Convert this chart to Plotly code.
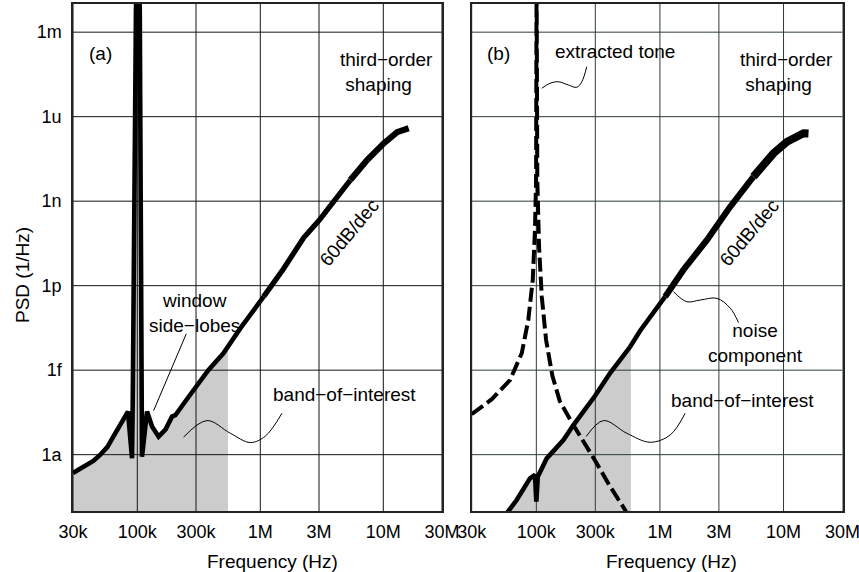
import numpy as np
import plotly.graph_objects as go

# ---------------- axis ticks ----------------
x_tick_vals = [3e4, 1e5, 3e5, 1e6, 3e6, 1e7, 3e7]
x_tick_text = ["30k", "100k", "300k", "1M", "3M", "10M", "30M"]
y_tick_vals = [1e-3, 1e-6, 1e-9, 1e-12, 1e-15, 1e-18]
y_tick_text = ["1m", "1u", "1n", "1p", "1f", "1a"]
x_range_log = [np.log10(3e4), np.log10(3e7)]
y_range_log = [-20, -2]

# ---------------- panel (a): full spectrum (log10 Hz, log10 PSD) ----------------
a_log_freq = [4.477, 4.588, 4.642, 4.697, 4.756, 4.805, 4.862, 4.924, 4.957, 4.963,
              4.989, 5.004, 5.020, 5.036, 5.038, 5.079, 5.12, 5.173, 5.23, 5.282,
              5.309, 5.40, 5.512, 5.577, 5.70, 5.84, 6.027, 6.189, 6.352, 6.48,
              6.596, 6.732, 6.868, 7.003, 7.112, 7.206]
a_log_psd = [-18.65, -18.37, -18.22, -18.01, -17.73, -17.36, -16.95, -16.47, -18.13, -16.06,
             -2.2, 0.0, -2.2, -16.0, -18.07, -16.47, -17.0, -17.36, -17.1, -16.65,
             -16.6, -16.05, -15.35, -15.0, -14.4, -13.5, -12.39, -11.4, -10.3, -9.67,
             -9.02, -8.25, -7.54, -6.95, -6.55, -6.41]

# ---------------- panel (b): noise component ----------------
b_noise_log_freq = [4.74, 4.841, 4.949, 4.989, 5.0, 5.012, 5.084, 5.219, 5.3, 5.477,
                    5.597, 5.759, 5.84, 6.042, 6.19, 6.38, 6.568, 6.757, 6.919, 7.028,
                    7.162, 7.202]
b_noise_log_psd = [-20.2, -19.61, -18.84, -18.72, -19.67, -18.78, -18.13, -17.48, -16.95, -15.9,
                   -15.1, -14.17, -13.6, -12.39, -11.44, -10.38, -9.2, -8.13, -7.3, -6.89,
                   -6.59, -6.6]

# ---------------- panel (b): extracted tone ----------------
b_tone_log_freq = [4.477, 4.64, 4.787, 4.882, 4.935, 4.971, 4.989, 4.998, 5.002, 5.008,
                   5.022, 5.044, 5.079, 5.13, 5.19, 5.289, 5.481, 5.597, 5.718, 5.745]
b_tone_log_psd = [-16.56, -16.03, -15.35, -14.4, -13.22, -11.8, -10.02, -8.25, -1.0, -8.25,
                  -10.62, -12.39, -13.93, -15.2, -16.1, -16.87, -18.25, -19.13, -19.96, -20.2]

# band-of-interest edges (log10 Hz)
a_band_edge = 5.737
b_band_edge = 5.765
# noise trace gets thicker toward high frequency (log10 Hz split points)
thick_splits = [6.0, 6.6]

FONT = "Liberation Sans, Arial, sans-serif"
GRAY_FILL = "#cccccc"
TXT = 19

fig = go.Figure()


def band_polygon(lf, lp, edge):
    lf = np.asarray(lf, float)
    lp = np.asarray(lp, float)
    m = lf <= edge
    xs = list(lf[m]) + [edge, edge, lf[0]]
    ys = list(lp[m]) + [float(np.interp(edge, lf, lp)), -21.0, -21.0]
    return 10 ** np.array(xs), 10 ** np.array(ys)


def add_grid(xa, ya, color):
    gx, gy = [], []
    for v in x_tick_vals:
        gx += [v, v, None]
        gy += [1e-21, 1e0, None]
    for v in y_tick_vals:
        gx += [1e4, 1e8, None]
        gy += [v, v, None]
    fig.add_trace(go.Scatter(x=gx, y=gy, mode="lines", xaxis=xa, yaxis=ya,
                             line=dict(color=color, width=1), hoverinfo="skip",
                             showlegend=False))


def add_noise(lf, lp, xa, ya, widths):
    lf = np.asarray(lf, float)
    lp = np.asarray(lp, float)
    cuts = [0] + [int(np.searchsorted(lf, s)) for s in thick_splits] + [len(lf) - 1]
    for i, w in enumerate(widths):
        a, b = cuts[i], cuts[i + 1]
        fig.add_trace(go.Scatter(x=10 ** lf[a:b + 1], y=10 ** lp[a:b + 1], mode="lines",
                                 xaxis=xa, yaxis=ya, line=dict(color="black", width=w),
                                 showlegend=False))


# ---- panel (a)
px, py = band_polygon(a_log_freq, a_log_psd, a_band_edge)
fig.add_trace(go.Scatter(x=px, y=py, fill="toself", fillcolor=GRAY_FILL, mode="lines",
                         line=dict(width=0, color=GRAY_FILL), xaxis="x", yaxis="y",
                         showlegend=False, hoverinfo="skip"))
add_grid("x", "y", "#151515")
add_noise(a_log_freq, a_log_psd, "x", "y", [4.6, 5.3, 6.2])

# ---- panel (b)
px, py = band_polygon(b_noise_log_freq, b_noise_log_psd, b_band_edge)
fig.add_trace(go.Scatter(x=px, y=py, fill="toself", fillcolor=GRAY_FILL, mode="lines",
                         line=dict(width=0, color=GRAY_FILL), xaxis="x2", yaxis="y2",
                         showlegend=False, hoverinfo="skip"))
add_grid("x2", "y2", "#2e3c3c")
add_noise(b_noise_log_freq, b_noise_log_psd, "x2", "y2", [4.6, 6.2, 8.0])
fig.add_trace(go.Scatter(x=10 ** np.array(b_tone_log_freq), y=10 ** np.array(b_tone_log_psd),
                         mode="lines", xaxis="x2", yaxis="y2",
                         line=dict(color="black", width=4, dash="14px,5px"),
                         showlegend=False))

# ---- annotation leader squiggles (log10 Hz, log10 PSD)
squiggles = [
    ("x", "y", [5.398, 5.132], [-13.71, -16.44], "linear"),  # window side-lobes
    ("x", "y", [5.376, 5.566, 5.756, 5.919, 6.041, 6.176],
     [-17.38, -16.79, -17.24, -17.57, -17.34, -16.53], "spline"),  # band (a)
    ("x2", "y2", [5.403, 5.543, 5.732, 5.921, 6.083, 6.204],
     [-17.36, -16.79, -17.24, -17.56, -17.30, -16.53], "spline"),  # band (b)
    ("x2", "y2", [5.044, 5.111, 5.178, 5.259, 5.327, 5.368, 5.408],
     [-4.99, -4.815, -4.76, -4.875, -4.957, -4.76, -4.226], "spline"),  # extracted tone
    ("x2", "y2", [6.109, 6.218, 6.326, 6.461, 6.569, 6.636],
     [-12.21, -12.57, -12.51, -12.45, -12.80, -13.31], "spline"),  # noise component
]
for xa, ya, sx, sy, shape in squiggles:
    fig.add_trace(go.Scatter(x=10 ** np.array(sx), y=10 ** np.array(sy), mode="lines",
                             xaxis=xa, yaxis=ya,
                             line=dict(color="black", width=1, shape=shape),
                             showlegend=False, hoverinfo="skip"))

# ---- text labels
labels = [
    ("x", "y", 4.699, -3.74, "(a)", "center", 0),
    ("x2", "y2", 4.69, -3.74, "(b)", "center", 0),
    ("x", "y", 6.628, -4.40, "third\u2212order<br>\u00a0shaping", "left", 0),
    ("x2", "y2", 6.633, -4.40, "third\u2212order<br>\u00a0shaping", "left", 0),
    ("x", "y", 5.467, -12.96, "window<br>side\u2212lobes", "center", 0),
    ("x", "y", 6.688, -15.88, "band\u2212of\u2212interest", "center", 0),
    ("x2", "y2", 6.667, -16.08, "band\u2212of\u2212interest", "center", 0),
    ("x2", "y2", 5.637, -3.69, "extracted tone", "center", 0),
    ("x2", "y2", 6.771, -14.03, "noise<br>component", "center", 0),
    ("x", "y", 6.723, -10.11, "60dB/dec", "center", -50),
    ("x2", "y2", 6.724, -10.11, "60dB/dec", "center", -50),
]
annotations = []
for xa, ya, x, y, txt, anchor, ang in labels:
    annotations.append(dict(xref=xa, yref=ya, x=x, y=y, text=txt, showarrow=False,
                            xanchor=anchor, yanchor="middle", align=anchor,
                            textangle=ang, font=dict(family=FONT, size=TXT, color="black")))

W, H = 859, 572
annotations += [
    dict(xref="paper", yref="paper", x=272.7 / W, y=1 - 561 / H, text="Frequency (Hz)",
         showarrow=False, xanchor="center", yanchor="middle",
         font=dict(family=FONT, size=TXT, color="black")),
    dict(xref="paper", yref="paper", x=671.3 / W, y=1 - 561 / H, text="Frequency (Hz)",
         showarrow=False, xanchor="center", yanchor="middle",
         font=dict(family=FONT, size=TXT, color="black")),
    dict(xref="paper", yref="paper", x=22 / W, y=1 - 275 / H, text="PSD (1/Hz)",
         showarrow=False, xanchor="center", yanchor="middle", textangle=-90,
         font=dict(family=FONT, size=TXT, color="black")),
]

axis_common = dict(type="log", showgrid=False, zeroline=False, showline=True, mirror=True,
                   linecolor="#222222", linewidth=1.5, ticks="", automargin=False,
                   ticklabeloverflow="allow",
                   tickfont=dict(family=FONT, size=18, color="black"))

fig.update_layout(
    width=W, height=H, margin=dict(l=0, r=0, t=0, b=0, autoexpand=False),
    paper_bgcolor="white", plot_bgcolor="white", showlegend=False,
    xaxis=dict(axis_common, domain=[73 / W, 442 / W], range=x_range_log,
               tickvals=x_tick_vals, ticktext=x_tick_text, anchor="y", ticklabelstandoff=4),
    yaxis=dict(axis_common, domain=[1 - 511 / H, 1 - 4 / H], range=y_range_log,
               tickvals=y_tick_vals, ticktext=y_tick_text, anchor="x", ticklabelstandoff=6),
    xaxis2=dict(axis_common, domain=[471.7 / W, 842.5 / W], range=x_range_log,
                tickvals=x_tick_vals, ticktext=x_tick_text, anchor="y2", ticklabelstandoff=4),
    yaxis2=dict(axis_common, domain=[1 - 511 / H, 1 - 4 / H], range=y_range_log,
                tickvals=y_tick_vals, ticktext=y_tick_text, anchor="x2",
                showticklabels=False),
    annotations=annotations,
)

fig.write_html("out.html")
